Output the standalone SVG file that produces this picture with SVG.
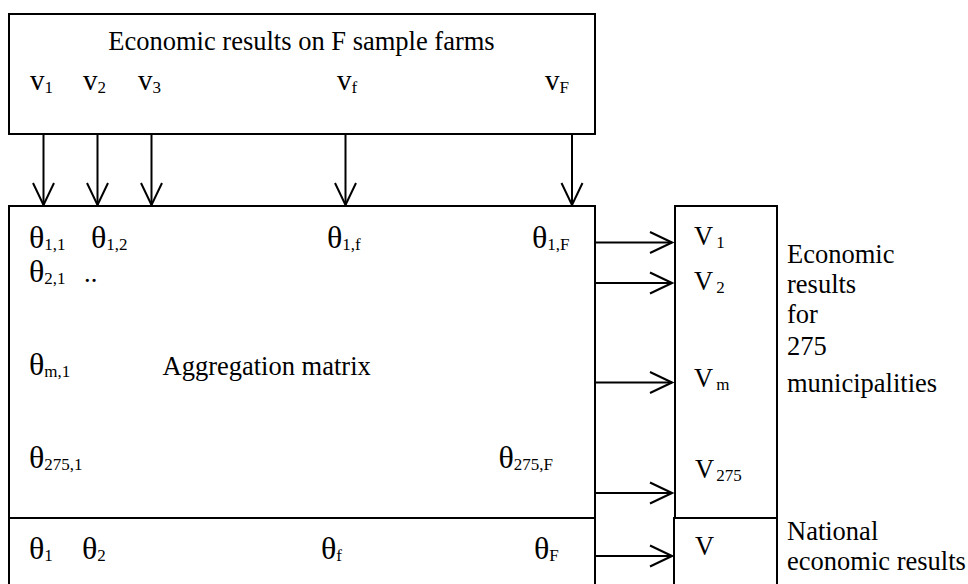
<svg xmlns="http://www.w3.org/2000/svg" width="968" height="584" viewBox="0 0 968 584">
<style>
text{font-family:"Liberation Serif","Times New Roman",serif;font-size:26.5px;fill:#000}
.th{font-size:32px}
.v{font-size:29px}
.sub{font-size:17px}
.box{fill:none;stroke:#000;stroke-width:2}
.arr{fill:none;stroke:#000;stroke-width:2;marker-end:url(#open)}
</style>
<defs>
<marker id="open" markerUnits="userSpaceOnUse" viewBox="-24 -13 26 26" markerWidth="26" markerHeight="26" refX="0" refY="0" orient="auto">
<path d="M-22,-10.5 L0,0 L-22,10.5" fill="none" stroke="#000" stroke-width="2"/>
</marker>
</defs>
<rect width="968" height="584" fill="#fff"/>
<g id="sample-farms">
<rect class="box" x="9" y="14" width="586" height="120"/>
<text x="301.5" y="50" text-anchor="middle">Economic results on F sample farms</text>
<text class="v" x="30" y="90">v<tspan class="sub" dy="3">1</tspan></text>
<text class="v" x="83" y="90">v<tspan class="sub" dy="3">2</tspan></text>
<text class="v" x="138" y="90">v<tspan class="sub" dy="3">3</tspan></text>
<text class="v" x="337" y="90">v<tspan class="sub" dy="3">f</tspan></text>
<text class="v" x="545" y="90">v<tspan class="sub" dy="3">F</tspan></text>
</g>
<g id="aggregation-matrix">
<rect class="box" x="9" y="206" width="586" height="312"/>
<text class="th" x="29" y="248">θ<tspan class="sub" dy="2">1,1</tspan></text>
<text class="th" x="91" y="248">θ<tspan class="sub" dy="2">1,2</tspan></text>
<text class="th" x="327" y="248">θ<tspan class="sub" dy="2">1,f</tspan></text>
<text class="th" x="532" y="248">θ<tspan class="sub" dy="2">1,F</tspan></text>
<text class="th" x="29" y="282">θ<tspan class="sub" dy="2">2,1</tspan></text>
<text x="84" y="282">..</text>
<text class="th" x="29" y="375">θ<tspan class="sub" dy="2">m,1</tspan></text>
<text x="162.5" y="375">Aggregation matrix</text>
<text class="th" x="29" y="468">θ<tspan class="sub" dy="2">275,1</tspan></text>
<text class="th" x="498.5" y="468">θ<tspan class="sub" dy="2">275,F</tspan></text>
</g>
<g id="weights-row">
<rect class="box" x="9" y="518" width="586" height="80"/>
<text class="th" x="29" y="559">θ<tspan class="sub" dy="2">1</tspan></text>
<text class="th" x="82" y="559">θ<tspan class="sub" dy="2">2</tspan></text>
<text class="th" x="321" y="559">θ<tspan class="sub" dy="2">f</tspan></text>
<text class="th" x="534" y="559">θ<tspan class="sub" dy="2">F</tspan></text>
</g>
<g id="municipal-results">
<rect class="box" x="675" y="206" width="102" height="312"/>
<text x="694" y="245">V<tspan class="sub" dx="3" dy="3">1</tspan></text>
<text x="694" y="290">V<tspan class="sub" dx="3" dy="3">2</tspan></text>
<text x="694" y="387">V<tspan class="sub" dx="3" dy="3">m</tspan></text>
<text x="695" y="478">V<tspan class="sub" dx="2" dy="3">275</tspan></text>
<text x="787" y="263">Economic</text>
<text x="787" y="293">results</text>
<text x="787" y="323">for</text>
<text x="787" y="355">275</text>
<text x="787" y="392">municipalities</text>
</g>
<g id="national-results">
<rect class="box" x="674" y="518" width="103" height="80"/>
<text x="695" y="555">V</text>
<text x="787" y="540">National</text>
<text x="787" y="570">economic results</text>
</g>
<g id="connectors">
<line class="arr" x1="43.5" y1="134" x2="43.5" y2="205"/>
<line class="arr" x1="97.5" y1="134" x2="97.5" y2="205"/>
<line class="arr" x1="151.5" y1="134" x2="151.5" y2="205"/>
<line class="arr" x1="345.5" y1="134" x2="345.5" y2="205"/>
<line class="arr" x1="572" y1="134" x2="572" y2="205"/>
<line class="arr" x1="595" y1="242.5" x2="672" y2="242.5"/>
<line class="arr" x1="595" y1="283" x2="672" y2="283"/>
<line class="arr" x1="595" y1="382.5" x2="672" y2="382.5"/>
<line class="arr" x1="595" y1="493" x2="672" y2="493"/>
<line class="arr" x1="595" y1="556" x2="672" y2="556"/>
</g>
</svg>
